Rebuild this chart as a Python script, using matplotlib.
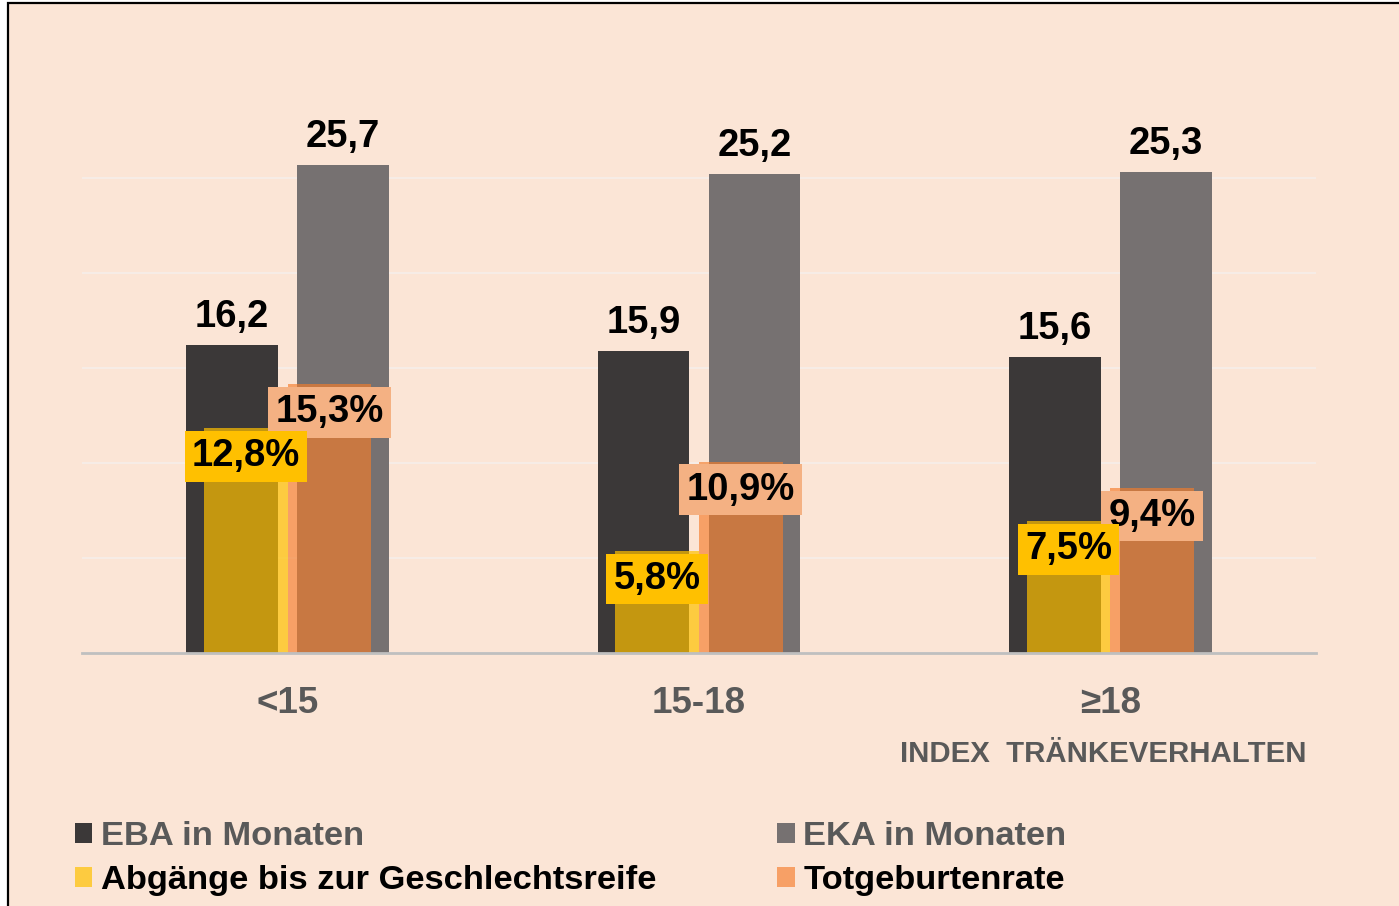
import matplotlib
matplotlib.use('Agg')
import matplotlib.pyplot as plt
import numpy as np
from matplotlib.patches import Rectangle

plt.rcParams['font.family'] = ['Liberation Sans', 'DejaVu Sans']

categories = ['<15', '15-18', '≥18']
eba = [16.2, 15.9, 15.6]
eka = [25.7, 25.2, 25.3]
abgaenge = [12.8, 5.8, 7.5]
totgeburten = [15.3, 10.9, 9.4]
series_names = ['EBA in Monaten', 'EKA in Monaten',
                'Abgänge bis zur Geschlechtsreife', 'Totgeburtenrate']
x_title = 'INDEX  TRÄNKEVERHALTEN'

W, H = 1399, 906
fig = plt.figure(figsize=(W / 100, H / 100), dpi=100)
fig.patch.set_facecolor('white')
bg = Rectangle((8 / W, -0.1), 1.2, (H - 3) / H + 0.1, transform=fig.transFigure,
               facecolor='#FBE5D6', edgecolor='black', lw=1.6, zorder=-10)
fig.patches.append(bg)

ax = fig.add_axes([82 / W, (H - 653) / H, 1234 / W, 570 / H])
ax.set_facecolor('none')
x = np.arange(len(categories))
w1, off1 = 0.223, 0.135
b1 = ax.bar(x - off1, eba, w1, color='#3B3838', zorder=2)
b2 = ax.bar(x + off1, eka, w1, color='#767171', zorder=2)
ax.set_xlim(-0.5, 2.5)
ax.set_ylim(0, 30)
ax.set_yticks(range(0, 26, 5))
ax.yaxis.grid(True, color='#F5EEEA', lw=1.2)
ax.set_axisbelow(True)
ax.set_xticks(x)
ax.set_xticklabels(categories, fontweight='bold')
for s in ax.spines.values():
    s.set_visible(False)

def fmt(v):
    return f"{v:.1f}".replace('.', ',')

for xi, v in zip(x - off1, eba):
    ax.annotate(fmt(v), (xi, v), xytext=(0, 10), textcoords='offset pixels',
                ha='center', va='bottom', fontsize=27.5, fontweight='bold', color='black')
for xi, v in zip(x + off1, eka):
    ax.annotate(fmt(v), (xi, v), xytext=(0, 10), textcoords='offset pixels',
                ha='center', va='bottom', fontsize=27.5, fontweight='bold', color='black')

ax2 = ax.twinx()
ax2.set_ylim(0, 570 / 17.55)
w2, off2 = 0.203, 0.1015
b3 = ax2.bar(x - off2, abgaenge, w2, color='#FFC000', alpha=0.7, zorder=2)
b4 = ax2.bar(x + off2, totgeburten, w2, color='#F57C2A', alpha=0.65, zorder=2)
ax2.set_yticks([])
for k, s in ax2.spines.items():
    s.set_visible(k == 'bottom')
ax2.spines['bottom'].set_color('#BFBFBF')
ax2.spines['bottom'].set_linewidth(2.0)

ax.tick_params(axis='y', left=False, right=False, labelleft=False, labelright=False)
ax.tick_params(axis='x', length=0, pad=24, labelsize=26.5, labelcolor='#595959')
ax2.tick_params(axis='both', length=0, labelleft=False, labelright=False, labelbottom=False)

for xi, v in zip(x + off2, totgeburten):
    ax2.annotate(fmt(v) + '%', (xi, v), xytext=(0, -28), textcoords='offset pixels',
                 ha='center', va='center', fontsize=27.5, fontweight='bold', color='black',
                 bbox=dict(boxstyle='square,pad=0.19', fc='#F4B183', ec='none'), zorder=5)
for xi, v in zip(x - off2, abgaenge):
    ax2.annotate(fmt(v) + '%', (xi, v), xytext=(0, -28), textcoords='offset pixels',
                 ha='center', va='center', fontsize=27.5, fontweight='bold', color='black',
                 bbox=dict(boxstyle='square,pad=0.19', fc='#FFC000', ec='none'), zorder=6)

fig.text(1307 / W, (H - 762) / H, x_title, ha='right', va='baseline',
         fontsize=21.2, fontweight='bold', color='#595959')

leg = fig.legend(handles=[b1, b3, b2, b4],
                 labels=[series_names[0], series_names[2], series_names[1], series_names[3]],
                 ncol=2, loc='upper left', bbox_to_anchor=(75 / W, (H - 821) / H),
                 frameon=False, prop={'size': 24.8, 'weight': 'bold'},
                 handlelength=0.5, handleheight=0.5, handletextpad=0.25,
                 columnspacing=3.52, labelspacing=0.38, borderpad=0, borderaxespad=0)
cols = ['#595959', 'black', '#595959', 'black']
for t, c in zip(leg.get_texts(), cols):
    t.set_color(c)

fig.savefig('out.png', dpi=100, facecolor=fig.get_facecolor())
